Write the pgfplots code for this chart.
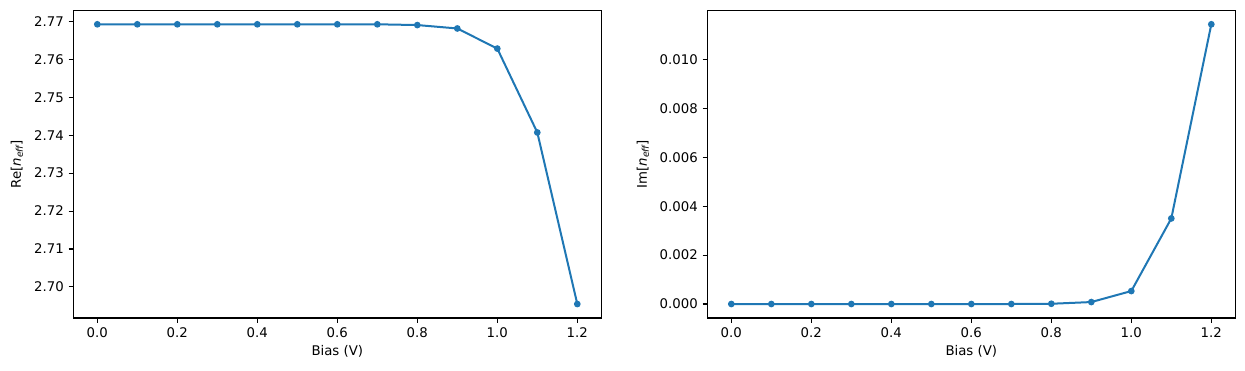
\documentclass[border=0pt]{standalone}
\usepackage{fontspec}
\setmainfont{DejaVu Sans}
\usepackage{pgfplots}
\pgfplotsset{compat=1.18}
\definecolor{tabblue}{HTML}{1F77B4}
\pgfplotsset{
  mystyle/.style={
    scale only axis,
    width=528pt, height=307.7pt,
    anchor=south west,
    axis line style={line width=1.07pt},
    every tick/.style={black, line width=1.07pt},
    tick align=outside,
    tick pos=left,
    major tick length=4.67pt,
    minor tick num=0,
    scaled y ticks=false,
    scaled x ticks=false,
    xmin=-0.06, xmax=1.26,
    xtick={0,0.2,0.4,0.6,0.8,1.0,1.2},
    xticklabels={0.0,0.2,0.4,0.6,0.8,1.0,1.2},
    tick label style={font=\fontsize{13.3}{16}\selectfont, inner sep=0pt},
    xticklabel style={yshift=-4.67pt},
    yticklabel style={xshift=-4.67pt},
    label style={font=\fontsize{13.3}{16}\selectfont, inner sep=0pt},
    xlabel style={at={(axis description cs:0.5,0)}, anchor=north, yshift=-27pt},
    xlabel={Bias (V)},
    /pgf/number format/assume math mode=true,
  },
  myline/.style={color=tabblue, line width=2pt, mark=*, mark size=2.3pt, mark options={solid, fill=tabblue, draw=none}},
}
\begin{document}
\begin{tikzpicture}
\path[use as bounding box] (0,0) rectangle (1245pt,371pt);
\begin{axis}[mystyle,
  at={(73.3pt,53pt)},
  ymin=2.69182, ymax=2.77289,
  ytick={2.70,2.71,2.72,2.73,2.74,2.75,2.76,2.77},
  yticklabels={2.70,2.71,2.72,2.73,2.74,2.75,2.76,2.77},
  ylabel={Re[{\itshape n}\textsubscript{\itshape eff}]},
  ylabel style={at={(axis description cs:-0.0947,0.5)}, anchor=south},
]
\addplot[myline] coordinates {
(0.0,2.7692) (0.1,2.7692) (0.2,2.7692) (0.3,2.7692) (0.4,2.7692) (0.5,2.7692) (0.6,2.7692)
(0.7,2.7692) (0.8,2.7690) (0.9,2.7681) (1.0,2.7628) (1.1,2.7407) (1.2,2.6955)
};
\end{axis}
\begin{axis}[mystyle,
  at={(707.3pt,53pt)},
  ymin=-0.000572, ymax=0.012012,
  ytick={0,0.002,0.004,0.006,0.008,0.010},
  yticklabels={0.000,0.002,0.004,0.006,0.008,0.010},
  ylabel={Im[{\itshape n}\textsubscript{\itshape eff}]},
  ylabel style={at={(axis description cs:-0.1098,0.5)}, anchor=south},
]
\addplot[myline] coordinates {
(0.0,0.0) (0.1,0.0) (0.2,0.0) (0.3,0.0) (0.4,0.0) (0.5,0.0) (0.6,0.0)
(0.7,0.0) (0.8,0.00001) (0.9,0.00008) (1.0,0.00053) (1.1,0.0035) (1.2,0.01144)
};
\end{axis}
\end{tikzpicture}
\end{document}
